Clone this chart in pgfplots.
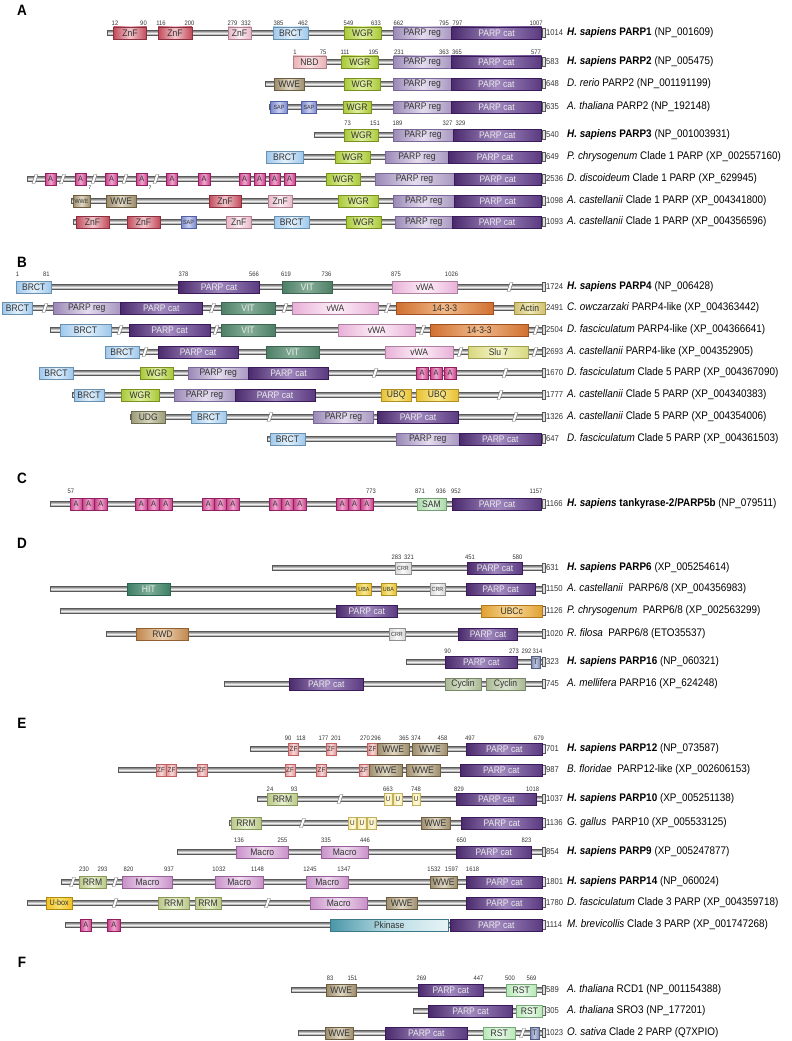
\documentclass[border=0pt]{standalone}
\usepackage{pgfplots}
\pgfplotsset{compat=1.18}
\usepackage{fontspec}
\setmainfont{Liberation Sans}[FakeStretch=0.9]
\definecolor{txt}{HTML}{333333}
\newcommand\defdom[5]{%
  \definecolor{#1L}{HTML}{#2}\definecolor{#1M}{HTML}{#3}\definecolor{#1R}{HTML}{#4}\definecolor{#1D}{HTML}{#5}%
  \tikzset{#1/.style={draw=#1D,line width=0.4pt,left color=#1L,right color=#1R,middle color=#1M}}}
\defdom{ZnF}{C24A5A}{F2C6CC}{C24A5A}{8A3040}
\defdom{ZnFl}{E8B8C8}{FBEEF2}{E8B8C8}{B08090}
\defdom{BRCT}{9EC8EC}{E2F0FB}{9EC8EC}{6A90B0}
\defdom{WGR}{A8C838}{E0F0A0}{A8C838}{7A9020}
\defdom{PREG}{9A88B6}{E4DCEE}{A898C0}{7A6898}
\defdom{PCAT}{4A2A6C}{A088BE}{5A3A80}{3A1A58}
\defdom{NBD}{EAB0B4}{FBE4E6}{EAB0B4}{B08088}
\defdom{WWE}{9C8C6C}{E0D8C4}{9C8C6C}{6C5C40}
\defdom{SAP}{7C88CC}{C8D0F0}{7C88CC}{5060A0}
\defdom{ANK}{C84088}{F0A8D0}{C84088}{902060}
\defdom{VIT}{4E7E66}{86AE98}{4E7E66}{3C6450}
\defdom{VWA}{E8B0D8}{FDF0F8}{E8B0D8}{B080A0}
\defdom{FTT}{D07030}{F0B888}{D07030}{A05020}
\defdom{ACT}{D0C070}{F0E8B8}{D0C070}{A09040}
\defdom{SLU}{D8D880}{F4F4C8}{D8D880}{A0A050}
\defdom{UBQ}{E8C030}{F8E890}{E8C030}{B09020}
\defdom{UDG}{9C9C78}{D8D8C0}{9C9C78}{6C6C50}
\defdom{SAM}{A8D8A8}{E0F4E0}{A8D8A8}{70A070}
\defdom{CRR}{D8D8D8}{F8F8F8}{D8D8D8}{909090}
\defdom{HIT}{3E7E66}{7EAE98}{3E7E66}{2C6450}
\defdom{UBCC}{E0A030}{F8D898}{E0A030}{B07820}
\defdom{RWD}{C08850}{ECD0B0}{C08850}{906030}
\defdom{TT}{7C88B0}{C0C8E0}{7C88B0}{505C80}
\defdom{CYC}{A8B894}{DCE4D0}{A8B894}{788866}
\defdom{ZF}{E09898}{F8D8D8}{E09898}{C06060}
\defdom{RRM}{B8C888}{E8F0D0}{B8C888}{889858}
\defdom{UU}{F8E8A0}{FFFBE4}{F8E8A0}{C0B060}
\defdom{MAC}{C890C8}{F0DCF0}{C890C8}{986098}
\defdom{UBOX}{F0C020}{F8E070}{F0C020}{B08A10}
\defdom{PKIN}{4A96A8}{B8DCE4}{E8F4F6}{3C7888}
\defdom{RST}{B8E8B8}{E8F8E8}{B8E8B8}{78A878}
\tikzset{bbs/.style={draw=black!65,line width=0.3pt,top color=black!55,bottom color=black!55,middle color=black!6},
  caps/.style={draw=black!65,fill=black!12,line width=0.3pt}}
\newcommand\wt[1]{\textcolor{white!92!black}{#1}}
\newcommand{\bb}[3]{%
  \pgfmathsetmacro\ya{#3-2.5}\pgfmathsetmacro\yb{#3+2.5}%
  \addplot[bbs] coordinates {(#1,\ya) (#2,\ya) (#2,\yb) (#1,\yb)} -- cycle;
  \pgfmathsetmacro\yc{#3-4.5}\pgfmathsetmacro\yd{#3+4.5}\pgfmathsetmacro\xe{#2+2.5}%
  \addplot[caps] coordinates {(#2,\yc) (\xe,\yc) (\xe,\yd) (#2,\yd)} -- cycle;
}
\newcommand{\brk}[2]{%
  \pgfmathsetmacro\xa{#1-3}\pgfmathsetmacro\xb{#1+3}\pgfmathsetmacro\ya{#2-4.5}\pgfmathsetmacro\yb{#2+4.5}%
  \addplot[fill=white,draw=black!60,line width=0.35pt] coordinates {(\xa,\yb) (#1,\ya) (\xb,\ya) (#1,\yb)} -- cycle;
}
\newcommand{\dom}[6][9.5]{%
  \pgfmathsetmacro\ya{#4-6}\pgfmathsetmacro\yb{#4+6}%
  \addplot[#5] coordinates {(#2,\ya) (#3,\ya) (#3,\yb) (#2,\yb)} -- cycle;
  \path (axis cs:#2,#4) -- (axis cs:#3,#4) node[midway,inner sep=0pt,font=\fontsize{#1}{#1}\selectfont,text=txt] {#6};
}
\newcommand{\nm}[3]{\node[inner sep=0pt,font=\fontsize{6.5}{6.5}\selectfont,text=txt] at (axis cs:#1,#2) {#3};}
\newcommand{\len}[2]{\node[anchor=west,inner sep=0pt,font=\fontsize{8.5}{8.5}\selectfont,text=txt] at (axis cs:546,#1) {#2};}
\newcommand{\lab}[2]{\node[anchor=west,inner sep=0pt,font=\fontsize{11}{11}\selectfont] at (axis cs:567,#1) {#2};}
\newcommand{\sect}[2]{\node[inner sep=0pt,font=\bfseries\fontsize{15}{15}\selectfont] at (axis cs:22,#1) {#2};}
\newcommand\hs{\textbf{\textit{H. sapiens}}~}
\begin{document}
\begin{tikzpicture}
\begin{axis}[width=792pt,height=1041pt,scale only axis,xmin=0,xmax=792,ymin=0,ymax=1041,y dir=reverse,hide axis,clip=false]
\addplot[draw=none] coordinates {(0,0) (792,1041)};
% ===== A =====
\sect{10}{A}
\bb{107.5}{542.5}{33}
\dom{113.5}{146.5}{33}{ZnF}{ZnF}
\dom{158}{192}{33}{ZnF}{ZnF}
\dom{228}{251}{33}{ZnFl}{ZnF}
\dom{273}{308.5}{33}{BRCT}{BRCT}
\dom{344}{381}{33}{WGR}{WGR}
\dom{393}{451.5}{33}{PREG}{PARP reg}
\dom{451.5}{541.5}{33}{PCAT}{\wt{PARP cat}}
\nm{115}{23}{12}\nm{143.5}{23}{90}\nm{161}{23}{116}\nm{189.5}{23}{200}\nm{232.5}{23}{279}\nm{246}{23}{332}
\nm{278.5}{23}{385}\nm{303}{23}{462}\nm{348.5}{23}{549}\nm{376}{23}{633}\nm{398.5}{23}{662}\nm{444}{23}{795}\nm{457.5}{23}{797}\nm{536}{23}{1007}
\len{33}{1014}\lab{33}{\hs\textbf{PARP1} (NP\_001609)}
%
\bb{293}{542.5}{62}
\dom{293}{326}{62}{NBD}{NBD}
\dom{341.5}{378}{62}{WGR}{WGR}
\dom{393.5}{451}{62}{PREG}{PARP reg}
\dom{451}{541.5}{62}{PCAT}{\wt{PARP cat}}
\nm{295}{52}{1}\nm{323}{52}{75}\nm{345}{52}{111}\nm{373.5}{52}{195}\nm{399}{52}{231}\nm{444}{52}{363}\nm{457}{52}{365}\nm{536}{52}{577}
\len{62}{583}\lab{62}{\hs\textbf{PARP2} (NP\_005475)}
%
\bb{265}{542.5}{84}
\dom{274}{304.5}{84}{WWE}{WWE}
\dom{344}{380}{84}{WGR}{WGR}
\dom{393.5}{451}{84}{PREG}{PARP reg}
\dom{451}{541.5}{84}{PCAT}{\wt{PARP cat}}
\len{84}{648}\lab{84}{\textit{D. rerio} PARP2 (NP\_001191199)}
%
\bb{269}{542.5}{107}
\dom[6]{270.5}{287.5}{107}{SAP}{SAP}
\dom[6]{301.5}{316.5}{107}{SAP}{SAP}
\dom{343}{371}{107}{WGR}{WGR}
\dom{393.5}{451.5}{107}{PREG}{PARP reg}
\dom{451.5}{541.5}{107}{PCAT}{\wt{PARP cat}}
\len{107}{635}\lab{107}{\textit{A. thaliana} PARP2 (NP\_192148)}
%
\bb{314}{542.5}{135}
\dom{344.5}{378.5}{135}{WGR}{WGR}
\dom{393}{453}{135}{PREG}{PARP reg}
\dom{453}{541.5}{135}{PCAT}{\wt{PARP cat}}
\nm{347.5}{123}{73}\nm{375}{123}{151}\nm{397.5}{123}{189}\nm{447.5}{123}{327}\nm{460.5}{123}{329}
\len{135}{540}\lab{135}{\hs\textbf{PARP3} (NP\_001003931)}
%
\bb{266.5}{542.5}{157}
\dom{266.5}{303}{157}{BRCT}{BRCT}
\dom{335}{370}{157}{WGR}{WGR}
\dom{385.5}{448.5}{157}{PREG}{PARP reg}
\dom{448.5}{541.5}{157}{PCAT}{\wt{PARP cat}}
\len{157}{649}\lab{157}{\textit{P. chrysogenum} Clade 1 PARP (XP\_002557160)}
%
\bb{27.5}{542.5}{179}
\brk{35}{179}\brk{62.5}{179}\brk{94}{179}\brk{125}{179}\brk{156}{179}
\dom[8]{45}{56}{179}{ANK}{A}
\dom[8]{75}{86}{179}{ANK}{A}
\dom[8]{105.5}{117.5}{179}{ANK}{A}
\dom[8]{136}{147.5}{179}{ANK}{A}
\dom[8]{166.5}{177.5}{179}{ANK}{A}
\dom[8]{198}{210}{179}{ANK}{A}
\dom[8]{239}{250}{179}{ANK}{A}
\dom[8]{254}{265}{179}{ANK}{A}
\dom[8]{269}{280}{179}{ANK}{A}
\dom[8]{284}{295}{179}{ANK}{A}
\node[inner sep=0pt,font=\fontsize{5}{5}\selectfont] at (axis cs:90,188) {7};
\node[inner sep=0pt,font=\fontsize{5}{5}\selectfont] at (axis cs:150,188) {7};
\dom{326}{360}{179}{WGR}{WGR}
\dom{375}{454}{179}{PREG}{PARP reg}
\dom{454}{541.5}{179}{PCAT}{\wt{PARP cat}}
\len{179}{2536}\lab{179}{\textit{D. discoideum} Clade 1 PARP (XP\_629945)}
%
\bb{71.5}{542.5}{201}
\dom[6]{73}{90}{201}{WWE}{WWE}
\dom{106.5}{136}{201}{WWE}{WWE}
\dom{209}{241}{201}{ZnF}{ZnF}
\dom{268}{292.5}{201}{ZnFl}{ZnF}
\dom{338}{378.5}{201}{WGR}{WGR}
\dom{393.5}{454}{201}{PREG}{PARP reg}
\dom{454}{541.5}{201}{PCAT}{\wt{PARP cat}}
\len{201}{1098}\lab{201}{\textit{A. castellanii} Clade 1 PARP (XP\_004341800)}
%
\bb{73.5}{542.5}{222}
\dom{76}{109}{222}{ZnF}{ZnF}
\dom{127}{160}{222}{ZnF}{ZnF}
\dom[6]{181}{196}{222}{SAP}{SAP}
\dom{226.5}{251}{222}{ZnFl}{ZnF}
\dom{274}{309}{222}{BRCT}{BRCT}
\dom{346}{381}{222}{WGR}{WGR}
\dom{395}{452.5}{222}{PREG}{PARP reg}
\dom{452.5}{541.5}{222}{PCAT}{\wt{PARP cat}}
\len{222}{1093}\lab{222}{\textit{A. castellanii} Clade 1 PARP (XP\_004356596)}
% ===== B =====
\sect{262}{B}
\bb{16.5}{542.5}{287}
\brk{510}{287}
\dom{16.5}{51}{287}{BRCT}{BRCT}
\dom{178.5}{259.5}{287}{PCAT}{\wt{PARP cat}}
\dom{282.5}{332}{287}{VIT}{\wt{VIT}}
\dom{392.5}{457.5}{287}{VWA}{vWA}
\nm{17.5}{274}{1}\nm{46.5}{274}{81}\nm{183.5}{274}{378}\nm{254}{274}{566}\nm{286}{274}{619}\nm{326.5}{274}{736}\nm{396}{274}{875}\nm{451.5}{274}{1026}
\len{287}{1724}\lab{287}{\hs\textbf{PARP4} (NP\_006428)}
%
\bb{2.5}{542.5}{308}
\brk{45}{308}\brk{212.5}{308}\brk{285}{308}\brk{387.5}{308}
\dom{2.5}{32.5}{308}{BRCT}{BRCT}
\dom{53.5}{120}{308}{PREG}{PARP reg}
\dom{120}{202.5}{308}{PCAT}{\wt{PARP cat}}
\dom{221}{275}{308}{VIT}{\wt{VIT}}
\dom{292.5}{378.5}{308}{VWA}{vWA}
\dom{396}{493.5}{308}{FTT}{14-3-3}
\dom{514}{545}{308}{ACT}{Actin}
\len{308}{2491}\lab{308}{\textit{C. owczarzaki} PARP4-like (XP\_004363442)}
%
\bb{50}{542.5}{330}
\brk{120}{330}\brk{216}{330}\brk{422.5}{330}\brk{536}{330}
\dom{60}{111}{330}{BRCT}{BRCT}
\dom{129}{210}{330}{PCAT}{\wt{PARP cat}}
\dom{221}{275}{330}{VIT}{\wt{VIT}}
\dom{338.5}{415}{330}{VWA}{vWA}
\dom{430}{528.5}{330}{FTT}{14-3-3}
\len{330}{2504}\lab{330}{\textit{D. fasciculatum} PARP4-like (XP\_004366641)}
%
\bb{105}{542.5}{352}
\brk{145}{352}\brk{460}{352}\brk{535}{352}
\dom{105}{139}{352}{BRCT}{BRCT}
\dom{158}{238}{352}{PCAT}{\wt{PARP cat}}
\dom{266.5}{319}{352}{VIT}{\wt{VIT}}
\dom{385}{453.5}{352}{VWA}{vWA}
\dom{468.5}{528.5}{352}{SLU}{Slu 7}
\len{352}{2693}\lab{352}{\textit{A. castellanii} PARP4-like (XP\_004352905)}
%
\bb{39}{542.5}{373}
\brk{375}{373}\brk{505}{373}
\dom{39}{73}{373}{BRCT}{BRCT}
\dom{140.5}{173}{373}{WGR}{WGR}
\dom{188}{248.5}{373}{PREG}{PARP reg}
\dom{248.5}{328.5}{373}{PCAT}{\wt{PARP cat}}
\dom[8]{416}{428}{373}{ANK}{A}
\dom[8]{430}{442}{373}{ANK}{A}
\dom[8]{444}{456}{373}{ANK}{A}
\len{373}{1670}\lab{373}{\textit{D. fasciculatum} Clade 5 PARP (XP\_004367090)}
%
\bb{72.5}{542.5}{395}
\brk{500}{395}
\dom{74}{104}{395}{BRCT}{BRCT}
\dom{121}{159}{395}{WGR}{WGR}
\dom{174}{235}{395}{PREG}{PARP reg}
\dom{235}{315}{395}{PCAT}{\wt{PARP cat}}
\dom{381}{411.5}{395}{UBQ}{UBQ}
\dom{416}{458.5}{395}{UBQ}{UBQ}
\len{395}{1777}\lab{395}{\textit{A. castellanii} Clade 5 PARP (XP\_004340383)}
%
\bb{130}{542.5}{417}
\brk{270}{417}\brk{515}{417}
\dom{131.5}{165}{417}{UDG}{UDG}
\dom{191.5}{226}{417}{BRCT}{BRCT}
\dom{313.5}{373.5}{417}{PREG}{PARP reg}
\dom{377.5}{458.5}{417}{PCAT}{\wt{PARP cat}}
\len{417}{1326}\lab{417}{\textit{A. castellanii} Clade 5 PARP (XP\_004354006)}
%
\bb{267.5}{542.5}{439}
\dom{270}{305}{439}{BRCT}{BRCT}
\dom{396.5}{459}{439}{PREG}{PARP reg}
\dom{459}{541.5}{439}{PCAT}{\wt{PARP cat}}
\len{439}{647}\lab{439}{\textit{D. fasciculatum} Clade 5 PARP (XP\_004361503)}
% ===== C =====
\sect{478}{C}
\bb{50}{542.5}{504}
\dom[8]{70}{82.3}{504}{ANK}{A}\dom[8]{82.3}{94.6}{504}{ANK}{A}\dom[8]{94.6}{107}{504}{ANK}{A}
\dom[8]{135}{147.3}{504}{ANK}{A}\dom[8]{147.3}{159.6}{504}{ANK}{A}\dom[8]{159.6}{172}{504}{ANK}{A}
\dom[8]{202}{214.3}{504}{ANK}{A}\dom[8]{214.3}{226.6}{504}{ANK}{A}\dom[8]{226.6}{239}{504}{ANK}{A}
\dom[8]{269}{281.3}{504}{ANK}{A}\dom[8]{281.3}{293.6}{504}{ANK}{A}\dom[8]{293.6}{306}{504}{ANK}{A}
\dom[8]{336}{348.3}{504}{ANK}{A}\dom[8]{348.3}{360.6}{504}{ANK}{A}\dom[8]{360.6}{373}{504}{ANK}{A}
\dom{417}{446}{504}{SAM}{SAM}
\dom{452.5}{541.5}{504}{PCAT}{\wt{PARP cat}}
\nm{71}{491}{57}\nm{371}{491}{773}\nm{420}{491}{871}\nm{441}{491}{936}\nm{456}{491}{952}\nm{536}{491}{1157}
\len{504}{1166}\lab{504}{\hs\textbf{tankyrase-2/PARP5b} (NP\_079511)}
% ===== D =====
\sect{543}{D}
\bb{272.5}{542.5}{568}
\dom[6]{395}{411}{568}{CRR}{CRR}
\dom{467.5}{522.5}{568}{PCAT}{\wt{PARP cat}}
\nm{396.5}{557}{283}\nm{409}{557}{321}\nm{470}{557}{451}\nm{517.5}{557}{580}
\len{568}{631}\lab{568}{\hs\textbf{PARP6} (XP\_005254614)}
%
\bb{50}{542.5}{589}
\dom{127.5}{170}{589}{HIT}{\wt{HIT}}
\dom[6]{356.5}{371.5}{589}{UBQ}{UBA}
\dom[6]{381}{396}{589}{UBQ}{UBA}
\dom[6]{430}{445}{589}{CRR}{CRR}
\dom{466}{535}{589}{PCAT}{\wt{PARP cat}}
\len{589}{1150}\lab{589}{\textit{A. castellanii}~ PARP6/8 (XP\_004356983)}
%
\bb{60}{542.5}{611}
\dom{336}{397.5}{611}{PCAT}{\wt{PARP cat}}
\dom{481}{542.5}{611}{UBCC}{UBCc}
\len{611}{1126}\lab{611}{\textit{P. chrysogenum}~ PARP6/8 (XP\_002563299)}
%
\bb{106}{542.5}{634}
\dom{136.5}{188.5}{634}{RWD}{RWD}
\dom[6]{389}{405}{634}{CRR}{CRR}
\dom{458.5}{517.5}{634}{PCAT}{\wt{PARP cat}}
\len{634}{1020}\lab{634}{\textit{R. filosa}~ PARP6/8 (ETO35537)}
%
\bb{406}{542.5}{662}
\dom{445}{517.5}{662}{PCAT}{\wt{PARP cat}}
\dom[8]{531}{540}{662}{TT}{T}
\nm{447.5}{651}{90}\nm{514}{651}{273}\nm{526.5}{651}{292}\nm{537.5}{651}{314}
\len{662}{323}\lab{662}{\hs\textbf{PARP16} (NP\_060321)}
%
\bb{224}{542.5}{684}
\dom{289}{363.5}{684}{PCAT}{\wt{PARP cat}}
\dom{445}{481}{684}{CYC}{Cyclin}
\dom{486}{525}{684}{CYC}{Cyclin}
\len{684}{745}\lab{684}{\textit{A. mellifera} PARP16 (XP\_624248)}
% ===== E =====
\sect{723}{E}
\bb{250}{542.5}{749}
\dom[7]{288.5}{298.5}{749}{ZF}{ZF}
\dom[7]{326}{336}{749}{ZF}{ZF}
\dom[7]{367.5}{377.5}{749}{ZF}{ZF}
\dom{377.5}{409}{749}{WWE}{WWE}
\dom{412.5}{447.5}{749}{WWE}{WWE}
\dom{466}{542.5}{749}{PCAT}{\wt{PARP cat}}
\nm{288}{738}{90}\nm{301}{738}{118}\nm{323.5}{738}{177}\nm{336}{738}{201}\nm{365}{738}{270}\nm{376}{738}{296}
\nm{404}{738}{365}\nm{416}{738}{374}\nm{442.5}{738}{458}\nm{470}{738}{497}\nm{539}{738}{679}
\len{749}{701}\lab{749}{\hs\textbf{PARP12} (NP\_073587)}
%
\bb{118.5}{542.5}{770}
\dom[7]{156}{166}{770}{ZF}{ZF}
\dom[7]{166.5}{176.5}{770}{ZF}{ZF}
\dom[7]{197}{207}{770}{ZF}{ZF}
\dom[7]{285}{295}{770}{ZF}{ZF}
\dom[7]{316.5}{326.5}{770}{ZF}{ZF}
\dom[7]{359}{369}{770}{ZF}{ZF}
\dom{369}{402.5}{770}{WWE}{WWE}
\dom{406}{440}{770}{WWE}{WWE}
\dom{460}{542.5}{770}{PCAT}{\wt{PARP cat}}
\len{770}{987}\lab{770}{\textit{B. floridae}~ PARP12-like (XP\_002606153)}
%
\bb{257.5}{542.5}{799}
\brk{340}{799}
\dom{267.5}{297.5}{799}{RRM}{RRM}
\dom[7]{384}{392.5}{799}{UU}{U}
\dom[7]{393.5}{402.5}{799}{UU}{U}
\dom[7]{412.5}{420}{799}{UU}{U}
\dom{456}{536.5}{799}{PCAT}{\wt{PARP cat}}
\nm{270}{789}{24}\nm{294}{789}{93}\nm{388}{789}{663}\nm{416}{789}{748}\nm{459}{789}{829}\nm{532.5}{789}{1018}
\len{799}{1037}\lab{799}{\hs\textbf{PARP10} (XP\_005251138)}
%
\bb{229}{542.5}{823}
\brk{302.5}{823}
\dom{231}{261}{823}{RRM}{RRM}
\dom[7]{348.5}{356.5}{823}{UU}{U}
\dom[7]{357.5}{366.5}{823}{UU}{U}
\dom[7]{367.5}{376}{823}{UU}{U}
\dom{421}{450}{823}{WWE}{WWE}
\dom{461}{542.5}{823}{PCAT}{\wt{PARP cat}}
\len{823}{1136}\lab{823}{\textit{G. gallus}~ PARP10 (XP\_005533125)}
%
\bb{177.5}{542.5}{852}
\dom{236}{288.5}{852}{MAC}{Macro}
\dom{321}{368.5}{852}{MAC}{Macro}
\dom{456.5}{531}{852}{PCAT}{\wt{PARP cat}}
\nm{239}{840}{136}\nm{282.5}{840}{255}\nm{326}{840}{335}\nm{365}{840}{446}\nm{461.5}{840}{650}\nm{526.5}{840}{823}
\len{852}{854}\lab{852}{\hs\textbf{PARP9} (XP\_005247877)}
%
\bb{61}{542.5}{882}
\brk{72.5}{882}\brk{115}{882}
\dom{79}{106}{882}{RRM}{RRM}
\dom{122.5}{172.5}{882}{MAC}{Macro}
\dom{215}{263.5}{882}{MAC}{Macro}
\dom{306}{348.5}{882}{MAC}{Macro}
\dom{430}{457.5}{882}{WWE}{WWE}
\dom{466}{542.5}{882}{PCAT}{\wt{PARP cat}}
\nm{84}{869}{230}\nm{102.5}{869}{293}\nm{128.5}{869}{820}\nm{169}{869}{937}\nm{219}{869}{1032}\nm{257.5}{869}{1148}
\nm{310}{869}{1245}\nm{344}{869}{1347}\nm{434}{869}{1532}\nm{451.5}{869}{1597}\nm{472.5}{869}{1618}
\len{882}{1801}\lab{882}{\hs\textbf{PARP14} (NP\_060024)}
%
\bb{27.5}{542.5}{903}
\brk{115}{903}\brk{267.5}{903}
\dom[8]{46}{72.5}{903}{UBOX}{U-box}
\dom{158.5}{189}{903}{RRM}{RRM}
\dom{195}{221}{903}{RRM}{RRM}
\dom{310}{367.5}{903}{MAC}{Macro}
\dom{386}{417.5}{903}{WWE}{WWE}
\dom{466}{542.5}{903}{PCAT}{\wt{PARP cat}}
\len{903}{1780}\lab{903}{\textit{D. fasciculatum} Clade 3 PARP (XP\_004359718)}
%
\bb{65}{542.5}{925}
\dom[8]{80}{91.5}{925}{ANK}{A}
\dom[8]{107.5}{120}{925}{ANK}{A}
\dom{330}{448.5}{925}{PKIN}{Pkinase}
\dom{450}{542.5}{925}{PCAT}{\wt{PARP cat}}
\len{925}{1114}\lab{925}{\textit{M. brevicollis} Clade 3 PARP (XP\_001747268)}
% ===== F =====
\sect{962}{F}
\bb{291}{542.5}{990}
\dom{326.5}{356}{990}{WWE}{WWE}
\dom{418}{483.5}{990}{PCAT}{\wt{PARP cat}}
\dom{506.5}{536}{990}{RST}{RST}
\nm{330}{978}{83}\nm{352.5}{978}{151}\nm{421.5}{978}{269}\nm{478.5}{978}{447}\nm{510}{978}{500}\nm{531.5}{978}{569}
\len{990}{589}\lab{990}{\textit{A. thaliana} RCD1 (NP\_001154388)}
%
\bb{413.5}{542.5}{1011}
\dom{428.5}{512.5}{1011}{PCAT}{\wt{PARP cat}}
\dom{516.5}{542.5}{1011}{RST}{RST}
\len{1011}{305}\lab{1011}{\textit{A. thaliana} SRO3 (NP\_177201)}
%
\bb{298.5}{542.5}{1033}
\brk{522.5}{1033}
\dom{325}{353.5}{1033}{WWE}{WWE}
\dom{385}{467.5}{1033}{PCAT}{\wt{PARP cat}}
\dom{483.5}{515}{1033}{RST}{RST}
\dom[8]{530}{539}{1033}{TT}{T}
\len{1033}{1023}\lab{1033}{\textit{O. sativa} Clade 2 PARP (Q7XPIO)}
\end{axis}
\end{tikzpicture}
\end{document}
